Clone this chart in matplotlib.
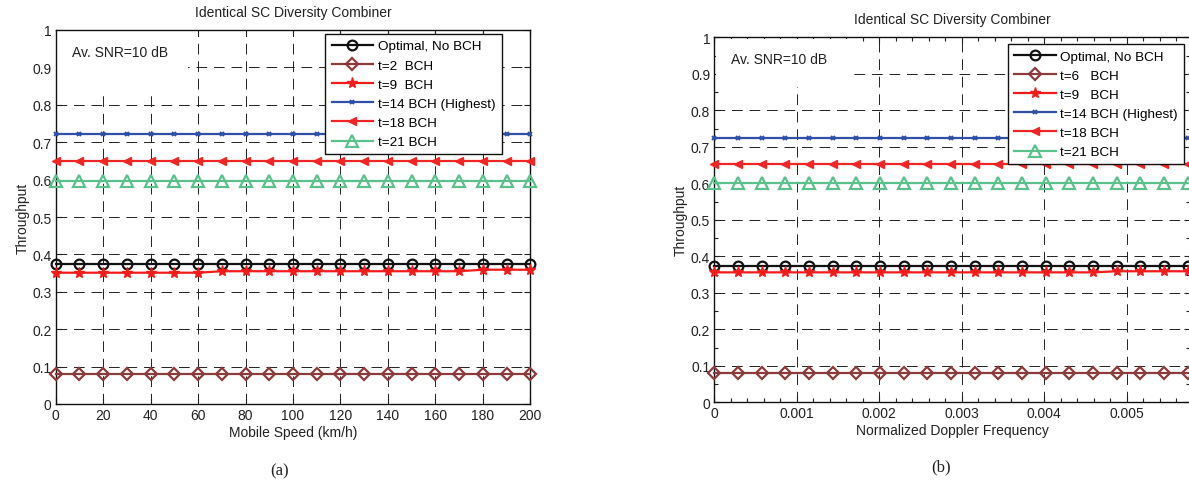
import matplotlib
matplotlib.use("Agg")
import matplotlib.pyplot as plt
from matplotlib.patches import Rectangle
from matplotlib.ticker import MultipleLocator

plt.rcParams['font.family'] = ['Liberation Sans', 'DejaVu Sans']

# ---------------- data: panel (a) ----------------
speed = [0, 10, 20, 30, 40, 50, 60, 70, 80, 90, 100, 110, 120, 130, 140, 150, 160, 170, 180, 190, 200]
a_optimal = [0.373, 0.373, 0.373, 0.373, 0.373, 0.373, 0.373, 0.373, 0.373, 0.373, 0.373,
             0.373, 0.373, 0.373, 0.373, 0.373, 0.373, 0.373, 0.373, 0.373, 0.373]
a_t2 = [0.079, 0.079, 0.079, 0.079, 0.079, 0.079, 0.079, 0.079, 0.079, 0.079, 0.079,
        0.079, 0.079, 0.079, 0.079, 0.079, 0.079, 0.079, 0.079, 0.079, 0.079]
a_t9 = [0.351, 0.351, 0.351, 0.351, 0.351, 0.351, 0.351, 0.355, 0.355, 0.355, 0.355,
        0.355, 0.355, 0.355, 0.355, 0.355, 0.355, 0.355, 0.359, 0.359, 0.359]
a_t14 = [0.721, 0.721, 0.721, 0.721, 0.721, 0.721, 0.721, 0.721, 0.721, 0.721, 0.721,
         0.721, 0.721, 0.721, 0.721, 0.721, 0.721, 0.721, 0.721, 0.721, 0.721]
a_t18 = [0.650, 0.650, 0.650, 0.650, 0.650, 0.650, 0.650, 0.650, 0.650, 0.650, 0.650,
         0.650, 0.650, 0.650, 0.650, 0.650, 0.650, 0.650, 0.650, 0.650, 0.650]
a_t21 = [0.597, 0.597, 0.597, 0.597, 0.597, 0.597, 0.597, 0.597, 0.597, 0.597, 0.597,
         0.597, 0.597, 0.597, 0.597, 0.597, 0.597, 0.597, 0.597, 0.597, 0.597]
a_labels = ['Optimal, No BCH', 't=2  BCH', 't=9  BCH', 't=14 BCH (Highest)', 't=18 BCH', 't=21 BCH']

# ---------------- data: panel (b) ----------------
doppler = [0, 0.000287, 0.000574, 0.000861, 0.001148, 0.001435, 0.001722, 0.002009, 0.002296,
           0.002583, 0.00287, 0.003157, 0.003444, 0.003731, 0.004018, 0.004305, 0.004592,
           0.004879, 0.005166, 0.005453, 0.00574]
b_optimal = [0.374, 0.374, 0.374, 0.374, 0.374, 0.374, 0.374, 0.374, 0.374, 0.374, 0.374,
             0.374, 0.374, 0.374, 0.374, 0.374, 0.374, 0.374, 0.374, 0.374, 0.374]
b_t6 = [0.080, 0.080, 0.080, 0.080, 0.080, 0.080, 0.080, 0.080, 0.080, 0.080, 0.080,
        0.080, 0.080, 0.080, 0.080, 0.080, 0.080, 0.080, 0.080, 0.080, 0.080]
b_t9 = [0.356, 0.356, 0.356, 0.356, 0.356, 0.356, 0.356, 0.356, 0.356, 0.356, 0.356,
        0.356, 0.356, 0.356, 0.356, 0.356, 0.356, 0.359, 0.359, 0.359, 0.359]
b_t14 = [0.724, 0.724, 0.724, 0.724, 0.724, 0.724, 0.724, 0.724, 0.724, 0.724, 0.724,
         0.724, 0.724, 0.724, 0.724, 0.724, 0.724, 0.724, 0.724, 0.724, 0.724]
b_t18 = [0.652, 0.652, 0.652, 0.652, 0.652, 0.652, 0.652, 0.652, 0.652, 0.652, 0.652,
         0.652, 0.652, 0.652, 0.652, 0.652, 0.652, 0.652, 0.652, 0.652, 0.652]
b_t21 = [0.601, 0.601, 0.601, 0.601, 0.601, 0.601, 0.601, 0.601, 0.601, 0.601, 0.601,
         0.601, 0.601, 0.601, 0.601, 0.601, 0.601, 0.601, 0.601, 0.601, 0.601]
b_labels = ['Optimal, No BCH', 't=6   BCH', 't=9   BCH', 't=14 BCH (Highest)', 't=18 BCH', 't=21 BCH']

title = 'Identical SC Diversity Combiner'
snr_note = 'Av. SNR=10 dB'

# ---------------- styles ----------------
styles = [
    dict(color='#111111', marker='o', ms=7, mfc='none', mew=1.6, lw=1.6),
    dict(color='#8a3c3c', marker='D', ms=6, mfc='none', mew=1.6, lw=1.6),
    dict(color='#f21c1c', marker='*', ms=8, lw=1.6),
    dict(color='#3050a8', marker='x', ms=3.5, mew=1.4, lw=1.6),
    dict(color='#f02525', marker='<', ms=6, lw=1.6),
    dict(color='#5cc08c', marker='^', ms=8, mfc='none', mew=1.6, lw=1.6),
]

W, H = 1189, 485
fig = plt.figure(figsize=(W / 100, H / 100), dpi=100)


def px_axes(left, right, top, bottom):
    return fig.add_axes([left / W, (H - bottom) / H, (right - left) / W, (bottom - top) / H])


grid_kw = dict(color='#222222', linestyle=(0, (11, 7)), linewidth=0.7)


def setup(ax, xs, series, labels, xlim, xmajor, xlabel, minor, leg_anchor, mask_w, mask_h):
    for ys, st, lab in zip(series, styles, labels):
        ax.plot(xs, ys, label=lab, clip_on=False, zorder=3, **st)
    ax.set_xlim(*xlim)
    ax.set_ylim(0, 1)
    ax.xaxis.set_major_locator(MultipleLocator(xmajor))
    ax.set_yticks([0, 0.1, 0.2, 0.3, 0.4, 0.5, 0.6, 0.7, 0.8, 0.9, 1.0])
    ax.set_yticklabels(['0', '0.1', '0.2', '0.3', '0.4', '0.5', '0.6', '0.7', '0.8', '0.9', '1'])
    if minor:
        ax.xaxis.set_minor_locator(MultipleLocator(xmajor / 5))
        ax.yaxis.set_minor_locator(MultipleLocator(0.05))
    ax.tick_params(which='both', direction='in', top=True, right=True, labelsize=10,
                   colors='#222222', width=0.8)
    ax.tick_params(which='major', length=4, pad=3)
    ax.tick_params(which='minor', length=3)
    ax.set_axisbelow(True)
    ax.grid(True, which='major', **grid_kw)
    for s in ax.spines.values():
        s.set_linewidth(1.0)
        s.set_color('#111111')
    ax.set_title(title, fontsize=10, pad=10, color='#222222')
    ax.set_xlabel(xlabel, fontsize=10, labelpad=2, color='#222222')
    ax.set_ylabel('Throughput', fontsize=10, labelpad=2, color='#222222')
    ax.add_patch(Rectangle((0.003, 1 - mask_h), mask_w, mask_h - 0.004, transform=ax.transAxes,
                           facecolor='white', edgecolor='none', zorder=0.8))
    ax.text(0.035, 0.94, snr_note, transform=ax.transAxes, fontsize=10,
            va='center', ha='left', color='#222222', zorder=3)
    leg = ax.legend(loc='upper right', bbox_to_anchor=leg_anchor, borderaxespad=0,
                    fontsize=9.7, handlelength=3.1, handletextpad=0.35, labelspacing=0.5,
                    borderpad=0.45, fancybox=False, framealpha=1, edgecolor='#111111')
    leg.get_frame().set_linewidth(1.0)
    leg.set_zorder(5)


# panel (a)
ax1 = px_axes(55.7, 530.3, 31, 405)
setup(ax1, speed, [a_optimal, a_t2, a_t9, a_t14, a_t18, a_t21], a_labels,
      (0, 200), 20, 'Mobile Speed (km/h)', False, (0.9397, 0.9893), 0.275, 0.16)

# panel (b)
ax2 = px_axes(714.3, 1190.0, 38.3, 403.3)
setup(ax2, doppler, [b_optimal, b_t6, b_t9, b_t14, b_t18, b_t21], b_labels,
      (0, 0.005766), 0.001, 'Normalized Doppler Frequency', True, (0.9874, 0.9816), 0.285, 0.135)
ax2.set_xticks([0, 0.001, 0.002, 0.003, 0.004, 0.005])
ax2.set_xticklabels(['0', '0.001', '0.002', '0.003', '0.004', '0.005'])

fig.text(279.5 / W, 1 - 471 / H, '(a)', fontsize=12, family='Liberation Serif',
         ha='center', va='center', color='#222222')
fig.text(941 / W, 1 - 467 / H, '(b)', fontsize=12, family='Liberation Serif',
         ha='center', va='center', color='#222222')

fig.savefig('out.png', dpi=100)
